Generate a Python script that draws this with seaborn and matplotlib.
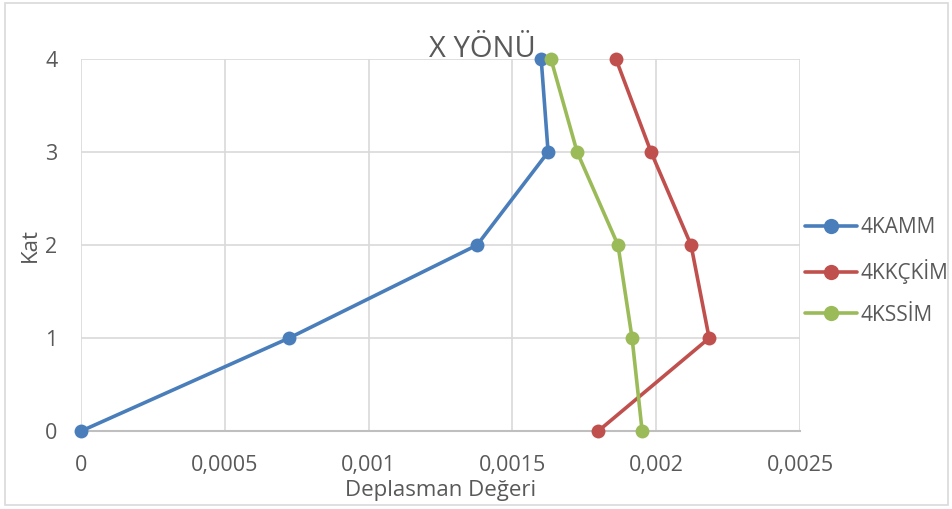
import matplotlib
matplotlib.use("Agg")
import matplotlib.pyplot as plt
import seaborn as sns
import pandas as pd
from matplotlib.lines import Line2D
from matplotlib.patches import Rectangle

# Storey levels and displacement values per series
katlar = [0, 1, 2, 3, 4]
kamm = [0.0, 0.000723, 0.001377, 0.001624, 0.001600]
kkcim = [0.001798, 0.002184, 0.002121, 0.001982, 0.001860]
kssim = [0.001951, 0.001916, 0.001867, 0.001725, 0.001634]
seriler = ["4KAMM", "4KKÇKİM", "4KSSİM"]
renkler = ["#4A7EBB", "#C0504D", "#9BBB59"]
x_ticks = [0, 0.0005, 0.001, 0.0015, 0.002, 0.0025]
x_tick_labels = ["0", "0,0005", "0,001", "0,0015", "0,002", "0,0025"]
y_ticks = [0, 1, 2, 3, 4]

rows = []
for name, vals in zip(seriler, [kamm, kkcim, kssim]):
    for k, v in zip(katlar, vals):
        rows.append({"seri": name, "kat": k, "deger": v})
df = pd.DataFrame(rows)

sns.set_theme(style="white")
plt.rcParams["font.family"] = ["Open Sans", "DejaVu Sans"]

fig = plt.figure(figsize=(9.53, 5.09), dpi=100)
ax = fig.add_axes([0.085, 0.153, 0.7545, 0.731])

sns.lineplot(data=df, x="deger", y="kat", hue="seri", palette=renkler,
             hue_order=seriler, sort=False, estimator=None, marker="o",
             markersize=10, markeredgewidth=0, linewidth=2.6, ax=ax,
             legend=False)
for line in ax.lines:
    line.set_clip_on(False)
    line.set_zorder(5)

ax.set_xlim(0, 0.0025)
ax.set_ylim(0, 4)
ax.set_xticks(x_ticks)
ax.set_xticklabels(x_tick_labels)
ax.set_yticks(y_ticks)
ax.grid(True, color="#D9D9D9", linewidth=1.2)
ax.set_axisbelow(True)
for s in ["top", "right", "left"]:
    ax.spines[s].set_visible(False)
ax.spines["bottom"].set_color("#BFBFBF")
ax.spines["bottom"].set_linewidth(1.5)
ax.tick_params(axis="both", length=0, labelsize=15.5, labelcolor="#595959")
ax.tick_params(axis="x", pad=17)
ax.tick_params(axis="y", pad=17)

ax.set_xlabel("Deplasman Değeri", fontsize=16, color="#595959", labelpad=3)
ax.set_ylabel("Kat", fontsize=16, color="#595959", labelpad=3)
fig.text(0.506, 0.903, "X YÖNÜ", ha="center", va="center", fontsize=21,
         color="#595959")

handles = [Line2D([0], [0], color=c, linewidth=2.6, marker="o",
                  markersize=11, markeredgewidth=0) for c in renkler]
fig.legend(handles, seriler, loc="center left", bbox_to_anchor=(0.845, 0.467),
           frameon=False, fontsize=15, labelcolor="#595959",
           handlelength=2.5, handletextpad=0.15, labelspacing=1.0,
           borderaxespad=0, borderpad=0)

fig.patches.append(Rectangle((0.005, 0.008), 0.99, 0.986, transform=fig.transFigure,
                             fill=False, edgecolor="#D9D9D9", linewidth=1.2))

fig.savefig("out.png", dpi=100)
